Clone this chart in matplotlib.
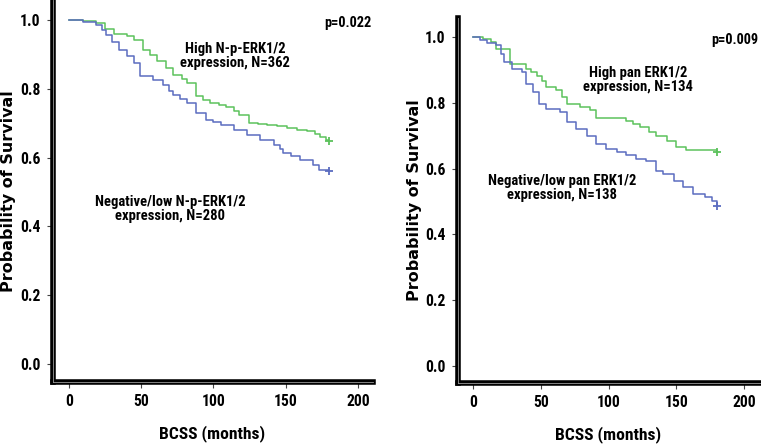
import matplotlib
matplotlib.use("Agg")
import matplotlib.pyplot as plt
from matplotlib import font_manager

# Kaplan-Meier steps (months, survival)
t_np_high = [0, 10, 19, 25, 31, 40, 45, 51, 56, 61, 67, 72, 78, 82, 88, 93, 98, 104, 109, 114, 118, 125, 131, 137, 144, 151, 158, 165, 170, 174, 178, 180]
s_np_high = [1.0, 0.997, 0.99, 0.975, 0.96, 0.954, 0.942, 0.913, 0.897, 0.88, 0.86, 0.84, 0.828, 0.816, 0.778, 0.766, 0.758, 0.752, 0.747, 0.736, 0.725, 0.70, 0.698, 0.696, 0.691, 0.686, 0.681, 0.676, 0.668, 0.66, 0.652, 0.647]
t_np_low = [0, 10, 19, 23, 26, 30, 35, 40, 45, 49, 58, 65, 69, 72, 77, 82, 88, 95, 100, 105, 114, 123, 132, 142, 146, 148, 154, 160, 169, 173, 180]
s_np_low = [1.0, 0.995, 0.986, 0.97, 0.957, 0.935, 0.913, 0.894, 0.874, 0.836, 0.826, 0.81, 0.795, 0.783, 0.77, 0.758, 0.73, 0.71, 0.703, 0.696, 0.68, 0.667, 0.652, 0.638, 0.625, 0.614, 0.604, 0.594, 0.58, 0.565, 0.56]

t_pan_high = [0, 7, 13, 17, 27, 39, 43, 47, 51, 54, 61, 66, 69, 79, 86, 91, 108, 113, 118, 123, 130, 135, 143, 150, 157, 180]
s_pan_high = [1.0, 0.993, 0.985, 0.964, 0.919, 0.904, 0.893, 0.883, 0.865, 0.848, 0.838, 0.818, 0.797, 0.787, 0.777, 0.754, 0.754, 0.746, 0.736, 0.726, 0.71, 0.70, 0.685, 0.665, 0.657, 0.652]
t_pan_low = [0, 5, 10, 17, 21, 23, 29, 36, 39, 44, 49, 54, 64, 69, 76, 84, 91, 98, 106, 113, 120, 128, 135, 140, 148, 155, 162, 171, 176, 180]
s_pan_low = [1.0, 0.99, 0.982, 0.975, 0.949, 0.924, 0.904, 0.893, 0.858, 0.832, 0.797, 0.782, 0.772, 0.741, 0.721, 0.70, 0.675, 0.66, 0.65, 0.64, 0.63, 0.624, 0.594, 0.584, 0.563, 0.543, 0.523, 0.513, 0.50, 0.487]

x_ticks = [0, 50, 100, 150, 200]
y_ticks = [0.0, 0.2, 0.4, 0.6, 0.8, 1.0]

green = "#5cc25c"
blue = "#5b6cc0"

# pick a condensed font if one is installed, otherwise shrink Liberation Sans
installed = {f.name for f in font_manager.fontManager.ttflist}
narrow = "Liberation Sans"
k = 0.8
for name in ["Liberation Sans Narrow", "Roboto Condensed", "Open Sans Condensed", "DejaVu Sans Condensed"]:
    if name in installed:
        narrow = name
        k = 1.0 if "Narrow" in name else 0.9
        break

fig = plt.figure(figsize=(7.61, 4.46), dpi=100)
ax1 = fig.add_axes([0.0696, 0.1435, 0.4204, 0.8565])
ax2 = fig.add_axes([0.602, 0.1413, 0.3967, 0.8183])

panels = [
    (ax1, t_np_high, s_np_high, t_np_low, s_np_low, (-11, 210.4),
     "p=0.022", "High N-p-ERK1/2\nexpression, N=362", (115, 0.896),
     "Negative/low N-p-ERK1/2\nexpression, N=280", (70, 0.45)),
    (ax2, t_pan_high, s_pan_high, t_pan_low, s_pan_low, (-11, 211.8),
     "p=0.009", "High pan ERK1/2\nexpression, N=134", (122, 0.87),
     "Negative/low pan ERK1/2\nexpression, N=138", (66, 0.54)),
]

for ax, th, sh, tl, sl, xl, ptxt, htxt, hpos, ltxt, lpos in panels:
    ax.plot(th, sh, drawstyle="steps-post", color=green, lw=1.1)
    ax.plot(tl, sl, drawstyle="steps-post", color=blue, lw=1.1)
    ax.plot(th[-1], sh[-1], "+", color=green, ms=6, mew=1.3)
    ax.plot(tl[-1], sl[-1], "+", color=blue, ms=6, mew=1.3)
    ax.set_xlim(*xl)
    ax.set_ylim(-0.052, 1.058)
    ax.set_xticks(x_ticks)
    ax.set_yticks(y_ticks)
    ax.set_xticklabels([str(v) for v in x_ticks], family=narrow, fontweight="bold", fontsize=12.5 * k)
    ax.set_yticklabels(["%.1f" % v for v in y_ticks], family=narrow, fontweight="bold", fontsize=12.5 * k)
    ax.tick_params(length=4, width=0.8, color="#444444", pad=5)
    for side in ["top", "right"]:
        ax.spines[side].set_visible(False)
    for side in ["left", "bottom"]:
        ax.spines[side].set_linewidth(4)
        ax.spines[side].set_color("black")
    # light line inside the thick axis lines
    ax.plot([0, 0], [0, 1], transform=ax.transAxes, color="#9a9a9a", lw=0.6, clip_on=False, zorder=5)
    ax.plot([0, 1], [0, 0], transform=ax.transAxes, color="#9a9a9a", lw=0.6, clip_on=False, zorder=5)
    ax.text(193, 0.99, ptxt, ha="center", va="center", family=narrow,
            fontweight="bold", fontsize=11.5 * k)
    ax.text(hpos[0], hpos[1], htxt, ha="center", va="center", family=narrow,
            fontweight="bold", fontsize=11.7 * k, linespacing=1.0)
    ax.text(lpos[0], lpos[1], ltxt, ha="center", va="center", family=narrow,
            fontweight="bold", fontsize=11.7 * k, linespacing=1.0)

fig.text(9 / 761, 1 - 191 / 446, "Probability of Survival", rotation=90,
         ha="center", va="center", family="DejaVu Sans", fontweight="bold", fontsize=11.5)
fig.text(415 / 761, 1 - 200 / 446, "Probability of Survival", rotation=90,
         ha="center", va="center", family="DejaVu Sans", fontweight="bold", fontsize=11.5)
fig.text(212 / 761, 1 - 434 / 446, "BCSS (months)", ha="center", va="center",
         family=narrow, fontweight="bold", fontsize=14 * k)
fig.text(608 / 761, 1 - 435 / 446, "BCSS (months)", ha="center", va="center",
         family=narrow, fontweight="bold", fontsize=14 * k)

fig.savefig("out.png", dpi=100)
